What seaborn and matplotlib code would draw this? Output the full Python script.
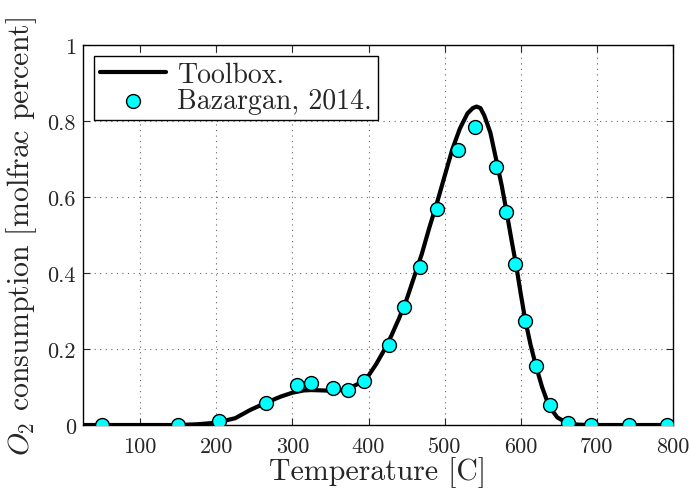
import numpy as np
import pandas as pd
import matplotlib
matplotlib.use("Agg")
import matplotlib.pyplot as plt
import seaborn as sns

# Toolbox (simulated) curve
temp_toolbox = [25, 100, 150, 175, 200, 225, 245, 267, 285, 300, 315, 325, 340, 354, 365, 375,
                390, 400, 410, 420, 430, 440, 450, 460, 470, 480, 490, 500, 510, 520, 530,
                537, 542, 547, 552, 560, 567, 575, 581, 588, 594, 600, 606, 613, 620, 628,
                637, 648, 660, 675, 690, 800]
o2_toolbox = [0, 0, 0, 0.002, 0.006, 0.018, 0.040, 0.060, 0.075, 0.085, 0.091, 0.092, 0.091,
              0.090, 0.092, 0.097, 0.112, 0.130, 0.160, 0.195, 0.235, 0.280, 0.330, 0.390,
              0.450, 0.520, 0.585, 0.655, 0.725, 0.780, 0.820, 0.834, 0.838, 0.834, 0.815,
              0.770, 0.705, 0.630, 0.565, 0.485, 0.420, 0.345, 0.275, 0.210, 0.155, 0.100,
              0.050, 0.020, 0.006, 0.001, 0, 0]

# Bazargan, 2014 experimental points
temp_exp = [50, 150, 204, 266, 306, 325, 354, 373, 394, 427, 447, 467, 490, 517, 540,
            567, 581, 593, 606, 620, 638, 662, 692, 742, 792]
o2_exp = [0, 0, 0.010, 0.059, 0.105, 0.110, 0.098, 0.092, 0.116, 0.211, 0.310, 0.417,
          0.568, 0.725, 0.785, 0.678, 0.560, 0.425, 0.275, 0.154, 0.053, 0.006, 0, 0, 0]

x_ticks = [100, 200, 300, 400, 500, 600, 700, 800]
y_ticks = [0, 0.2, 0.4, 0.6, 0.8, 1]
y_tick_labels = ["0", "0.2", "0.4", "0.6", "0.8", "1"]

df_tool = pd.DataFrame({"T": temp_toolbox, "O2": o2_toolbox})
df_exp = pd.DataFrame({"T": temp_exp, "O2": o2_exp})

sns.set_style("ticks")
plt.rcParams["font.family"] = ["cmr10", "DejaVu Serif"]
plt.rcParams["mathtext.fontset"] = "cm"
plt.rcParams["axes.formatter.use_mathtext"] = True

fig = plt.figure(figsize=(6.9, 4.89), dpi=100)
ax = fig.add_axes([0.1203, 0.1288, 0.8551, 0.7771])

sns.lineplot(data=df_tool, x="T", y="O2", ax=ax, color="black", linewidth=3,
             label="Toolbox.", sort=False)
sns.scatterplot(data=df_exp, x="T", y="O2", ax=ax, color="#00ffff", edgecolor="black",
                linewidth=1, s=100, label="Bazargan, 2014.", zorder=3)

ax.set_xlim(25, 800)
ax.set_ylim(0, 1)
ax.set_xticks(x_ticks)
ax.set_xticklabels([str(t) for t in x_ticks])
ax.set_yticks(y_ticks)
ax.set_yticklabels(y_tick_labels)
ax.tick_params(direction="in", top=True, right=True, labelsize=16, length=5, width=0.8)
ax.tick_params(axis="x", pad=8)
ax.tick_params(axis="y", pad=5)
ax.grid(True, linestyle=(0, (1, 4)), color="black", linewidth=0.8, alpha=0.6)
for s in ax.spines.values():
    s.set_linewidth(1.0)
    s.set_color("black")

ax.set_xlabel("Temperature [C]", fontsize=21.5, labelpad=0)
ax.set_ylabel(r"$O_2$ consumption [molfrac percent]", fontsize=21.5, labelpad=6)

leg = ax.legend(loc="upper left", fontsize=20, frameon=True, fancybox=False,
                edgecolor="black", framealpha=1, borderpad=0.2, labelspacing=0.0,
                handlelength=2.4, handletextpad=0.4, borderaxespad=0.4)
leg.get_frame().set_linewidth(1.0)

fig.savefig("out.png", dpi=100)
